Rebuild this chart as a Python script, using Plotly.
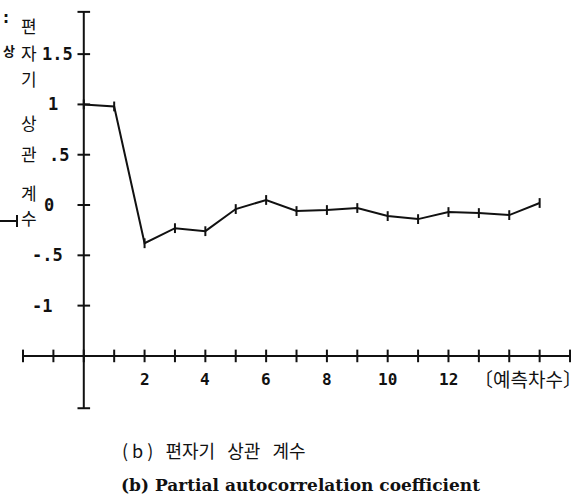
import plotly.graph_objects as go

# ---- data ----
lags = list(range(0, 16))
pacf = [1.00, 0.98, -0.38, -0.23, -0.26, -0.04, 0.05, -0.06, -0.05, -0.03,
        -0.11, -0.14, -0.07, -0.08, -0.10, 0.02]
x_tick_vals = [2, 4, 6, 8, 10, 12]
x_tick_text = ["2", "4", "6", "8", "10", "12"]
y_tick_vals = [1.5, 1.0, 0.5, 0.0, -0.5, -1.0]
y_tick_text = ["1.5", "1", ".5", "0", "-.5", "-1"]
y_label_chars = ["편", "자", "기", "상", "관", "계", "수"]
x_unit_label = "〔예측차수〕"
caption_ko_parts = ["( b )", "편자기", "상관", "계수"]
caption_en = "(b) Partial autocorrelation coefficient"

W, H = 586, 503
PX_X = 30.39          # pixels per x unit
PX_Y = 100.6          # pixels per y unit
X0 = -2.757           # x value at left edge
Y0 = 2.038            # y value at top edge
XAXIS_Y = -1.5
X_MIN, X_MAX = -2, 16
Y_MIN, Y_MAX = -2.02, 1.92

def dx(px):
    return X0 + px / PX_X

def dy(py):
    return Y0 - py / PX_Y

fig = go.Figure()
ink = "#111111"

# axes lines
fig.add_shape(type="line", x0=X_MIN, x1=X_MAX, y0=XAXIS_Y, y1=XAXIS_Y,
              line=dict(color=ink, width=2))
fig.add_shape(type="line", x0=0, x1=0, y0=Y_MIN, y1=Y_MAX,
              line=dict(color=ink, width=2))

# x-axis ticks (crossing)
xt = list(range(X_MIN, X_MAX + 1))
fig.add_trace(go.Scatter(x=xt, y=[XAXIS_Y] * len(xt), mode="markers",
                         marker=dict(symbol="line-ns", size=9,
                                     line=dict(color=ink, width=2)),
                         hoverinfo="skip", showlegend=False))
# y-axis ticks (crossing), plus end caps
yt = y_tick_vals + [Y_MIN, Y_MAX]
fig.add_trace(go.Scatter(x=[0] * len(yt), y=yt, mode="markers",
                         marker=dict(symbol="line-ew", size=9,
                                     line=dict(color=ink, width=2)),
                         hoverinfo="skip", showlegend=False))

# data line
fig.add_trace(go.Scatter(x=lags, y=pacf, mode="lines+markers",
                         line=dict(color=ink, width=2),
                         marker=dict(symbol="line-ns", size=7,
                                     line=dict(color=ink, width=2)),
                         showlegend=False))

tick_font = dict(family="DejaVu Sans Mono", size=16, color=ink)
# x tick labels
for v, t in zip(x_tick_vals, x_tick_text):
    fig.add_annotation(x=v, y=dy(379), text="<b>" + t + "</b>", showarrow=False,
                       font=tick_font, xanchor="center", yanchor="middle")
fig.add_annotation(x=dx(528), y=dy(378), text=x_unit_label, showarrow=False,
                   font=dict(family="Noto Sans CJK KR", size=19, color=ink),
                   xanchor="center", yanchor="middle")

# y tick labels (left edges)
y_lbl_left = [40, 46, 47, 42, 30, 30]
for v, t, lx in zip(y_tick_vals, y_tick_text, y_lbl_left):
    fig.add_annotation(x=dx(lx), y=v, text="<b>" + t + "</b>", showarrow=False,
                       font=dict(family="DejaVu Sans Mono", size=17, color=ink),
                       xanchor="left", yanchor="middle")

# vertical Korean axis title
char_y = [25, 52, 78, 122, 153, 192, 217]
for c, py in zip(y_label_chars, char_y):
    fig.add_annotation(x=dx(29), y=dy(py), text=c, showarrow=False,
                       font=dict(family="Noto Sans CJK KR", size=17, color=ink),
                       xanchor="center", yanchor="middle")

# fragments from the neighbouring figure at the left edge
fig.add_annotation(x=dx(6), y=dy(18), text="<b>:</b>", showarrow=False,
                   font=dict(family="DejaVu Sans", size=15, color=ink))
fig.add_annotation(x=dx(1), y=dy(50), text="<b>상</b>", showarrow=False,
                   font=dict(family="Noto Sans CJK KR", size=13, color=ink),
                   xanchor="left")
fig.add_shape(type="line", x0=dx(0), x1=dx(17), y0=dy(221), y1=dy(221),
              line=dict(color=ink, width=2))
fig.add_shape(type="line", x0=dx(17), x1=dx(17), y0=dy(215), y1=dy(227),
              line=dict(color=ink, width=2))

# captions
NB = "\u00a0"
caption_ko = (NB * 3).join(caption_ko_parts)
fig.add_annotation(xref="paper", yref="paper", x=120 / W, y=1 - 450 / H,
                   text=caption_ko, showarrow=False, xanchor="left",
                   yanchor="middle",
                   font=dict(family="Noto Sans CJK KR", size=18, color=ink))
fig.add_annotation(xref="paper", yref="paper", x=119 / W, y=1 - 485 / H,
                   text="<b>" + caption_en + "</b>", showarrow=False,
                   xanchor="left", yanchor="middle",
                   font=dict(family="DejaVu Serif", size=17, color=ink))

fig.update_layout(
    width=W, height=H,
    margin=dict(l=0, r=0, t=0, b=0),
    paper_bgcolor="white", plot_bgcolor="white",
    xaxis=dict(range=[X0, X0 + W / PX_X], visible=False, fixedrange=True),
    yaxis=dict(range=[Y0 - H / PX_Y, Y0], visible=False, fixedrange=True),
    showlegend=False,
)

fig.write_html("out.html")
